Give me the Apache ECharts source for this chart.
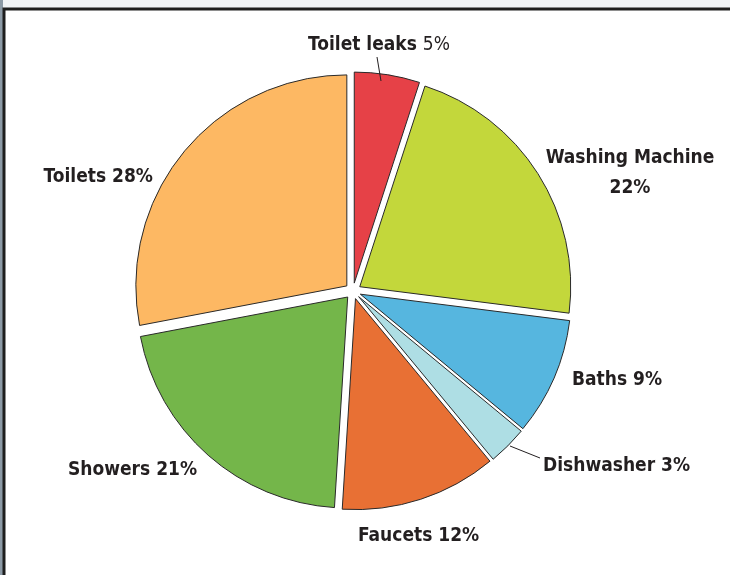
<!DOCTYPE html>
<html><head><meta charset="utf-8">
<script src="https://cdn.jsdelivr.net/npm/echarts@6/dist/echarts.min.js"></script>
<style>html,body{margin:0;padding:0;background:#fff;}#c{width:730px;height:575px;}</style>
</head><body><div id="c"></div>
<script>
const categories = ['Toilet leaks', 'Washing Machine', 'Baths', 'Dishwasher', 'Faucets', 'Showers', 'Toilets'];
const values = [5, 22, 9, 3, 12, 21, 28];
const colors = ['#e64147', '#c3d73b', '#56b6df', '#aedee4', '#e87034', '#74b64a', '#fdb863'];

const FONT = '"Liberation Sans Narrow", "DejaVu Sans Condensed", "Noto Sans", sans-serif';

// label placement (layout/style, not data)
const labelPos = {
  'Toilet leaks': { x: 379, y: 45, align: 'center', line: [[381, 81], [379, 69], [377, 57]] },
  'Washing Machine': { x: 630, y: 173, align: 'center' },
  'Baths': { x: 572, y: 380, align: 'left' },
  'Dishwasher': { x: 543, y: 466, align: 'left', line: [[510, 446], [525, 452], [540, 458]] },
  'Faucets': { x: 358, y: 536, align: 'left' },
  'Showers': { x: 68, y: 470, align: 'left' },
  'Toilets': { x: 153, y: 177, align: 'right' }
};

const sliceData = categories.map((name, i) => ({
  name, value: values[i], selected: true, itemStyle: { color: colors[i] }
}));
const labelData = categories.map((name, i) => ({
  name, value: values[i],
  labelLine: { show: !!labelPos[name].line }
}));

const chart = echarts.init(document.getElementById('c'), null, { renderer: 'canvas' });
chart.setOption({
  backgroundColor: '#ffffff',
  animation: false,
  graphic: [
    { type: 'rect', shape: { x: 0, y: 0, width: 730, height: 8 }, style: { fill: '#f1f3f6' }, silent: true },
    { type: 'rect', shape: { x: 0, y: 0, width: 3, height: 575 }, style: { fill: '#8c9aa6' }, silent: true },
    { type: 'rect', shape: { x: 4, y: 9, width: 740, height: 600 }, style: { fill: 'none', stroke: '#1e1e1e', lineWidth: 3 }, silent: true }
  ],
  series: [{
    type: 'pie',
    center: [353, 291],
    radius: [0, 211],
    startAngle: 90,
    clockwise: true,
    selectedMode: 'multiple',
    selectedOffset: 8,
    emphasis: { disabled: true },
    silent: true,
    label: { show: false },
    labelLine: { show: false },
    select: { itemStyle: { borderColor: '#2a2a2a', borderWidth: 1 } },
    itemStyle: { borderColor: '#2a2a2a', borderWidth: 1 },
    data: sliceData
  }, {
    type: 'pie',
    center: [353, 291],
    radius: [0, 219],
    startAngle: 90,
    clockwise: true,
    silent: true,
    avoidLabelOverlap: false,
    emphasis: { disabled: true },
    itemStyle: { color: 'rgba(0,0,0,0)', borderWidth: 0 },
    data: labelData,
    z: 3,
    label: {
      show: true,
      position: 'outside',
      fontFamily: FONT,
      fontWeight: 'bold',
      fontSize: 19,
      color: '#231f20',
      lineHeight: 30,
      formatter: p => {
        if (p.name === 'Toilet leaks') return '{b|Toilet leaks} {n|' + p.value + '%}';
        if (p.name === 'Washing Machine') return '{c|Washing Machine}\n{c|' + p.value + '%}';
        return p.name + ' ' + p.value + '%';
      },
      rich: {
        b: { fontFamily: FONT, fontWeight: 'bold', fontSize: 19, color: '#231f20' },
        n: { fontFamily: FONT, fontWeight: 'normal', fontSize: 19, color: '#231f20' },
        c: { fontFamily: FONT, fontWeight: 'bold', fontSize: 19, color: '#231f20', align: 'center', lineHeight: 30 }
      }
    },
    labelLine: { length: 10, length2: 10, lineStyle: { color: '#231f20', width: 1 } },
    labelLayout: params => {
      const p = labelPos[categories[params.dataIndex]];
      const out = { x: p.x, y: p.y, align: p.align, verticalAlign: 'middle' };
      if (p.line) out.labelLinePoints = p.line;
      return out;
    }
  }]
});
</script></body></html>
